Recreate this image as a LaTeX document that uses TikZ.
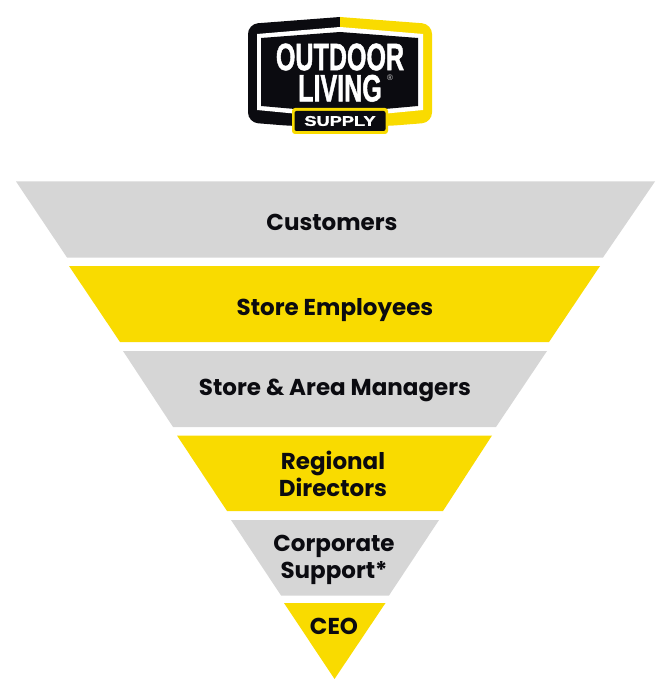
\documentclass[tikz,border=0pt]{standalone}
\usepackage{fontspec}
\setmainfont{Poppins}
\newfontfamily\logofont{Liberation Sans}[BoldFeatures={FakeBold=1.6}]
\usetikzlibrary{positioning}
\definecolor{tiergray}{HTML}{D6D6D6}
\definecolor{tieryellow}{HTML}{F9DB00}
\definecolor{logoblack}{HTML}{0B0B10}
\tikzset{
  tierlabel/.style={
    font=\fontsize{23}{26.5}\selectfont\bfseries,
    text=logoblack,
    inner sep=0pt,
  },
  logotext/.style={
    font=\logofont\fontsize{38}{38}\selectfont\bfseries,
    text=white,
    inner sep=0pt,
    xscale=0.66,
    transform shape,
  },
}
\begin{document}
\begin{tikzpicture}[x=1pt,y=-1pt,every text node part/.style={align=center}]
\useasboundingbox (0,0) rectangle (670,700);

% logo
\fill[logoblack] (340,126) -- (340,17) [rounded corners=10pt] -- (248,24) -- (248,122.5) -- (292,126) [sharp corners] -- cycle;
\fill[tieryellow] (340,126) -- (340,17) [rounded corners=10pt] -- (432,24) -- (432,122.5) -- (388,126) [sharp corners] -- cycle;
\fill[white] (340,27) -- (257,34) -- (257,110) -- (340,118) -- (423,110) -- (423,34) -- cycle;
\fill[logoblack] (340,32) -- (261,38) -- (261,106) -- (340,113) -- (418,106) -- (418,38) -- cycle;
\node[logotext] (OUTDOOR) at (340,57) {OUTDOOR};
\node[logotext,below=4pt of OUTDOOR] (LIVING) {LIVING};
\node[font=\logofont\fontsize{8}{8}\selectfont,text=tiergray,inner sep=0pt] (REG) at (390,78) {®};
\fill[tieryellow,rounded corners=3pt] (292,108) rectangle (388,134);
\fill[logoblack,rounded corners=2pt] (294.5,111) rectangle (385.5,131);
\node[logotext,font=\logofont\fontsize{14}{14}\selectfont\bfseries,xscale=1.3/0.66] (SUPPLY) at (340,121) {SUPPLY};

% tiers
\fill[tiergray] (16,181.5) -- (655,181.5) -- (603,257.5) -- (67,257.5) -- cycle;
\fill[tieryellow] (69,266) -- (600,266) -- (549,342) -- (120,342) -- cycle;
\fill[tiergray] (123,351) -- (547,351) -- (496,427) -- (173,427) -- cycle;
\fill[tieryellow] (177,435.5) -- (492,435.5) -- (443,511) -- (227,511) -- cycle;
\fill[tiergray] (231,520) -- (439,520) -- (389,595.5) -- (281,595.5) -- cycle;
\fill[tieryellow] (284,603) -- (385.5,603) -- (334.5,679) -- cycle;

\node[tierlabel] (CUSTOMERS) at (332,222) {Customers};
\node[tierlabel] (EMPLOYEES) at (335,310) {Store Employees};
\node[tierlabel] (MANAGERS) at (335,390) {Store \& Area Managers};
\node[tierlabel] (DIRECTORS) at (333,474) {Regional\\Directors};
\node[tierlabel] (SUPPORT) at (334,560) {Corporate\\Support*};
\node[tierlabel] (CEO) at (334,626) {CEO};
\end{tikzpicture}
\end{document}
